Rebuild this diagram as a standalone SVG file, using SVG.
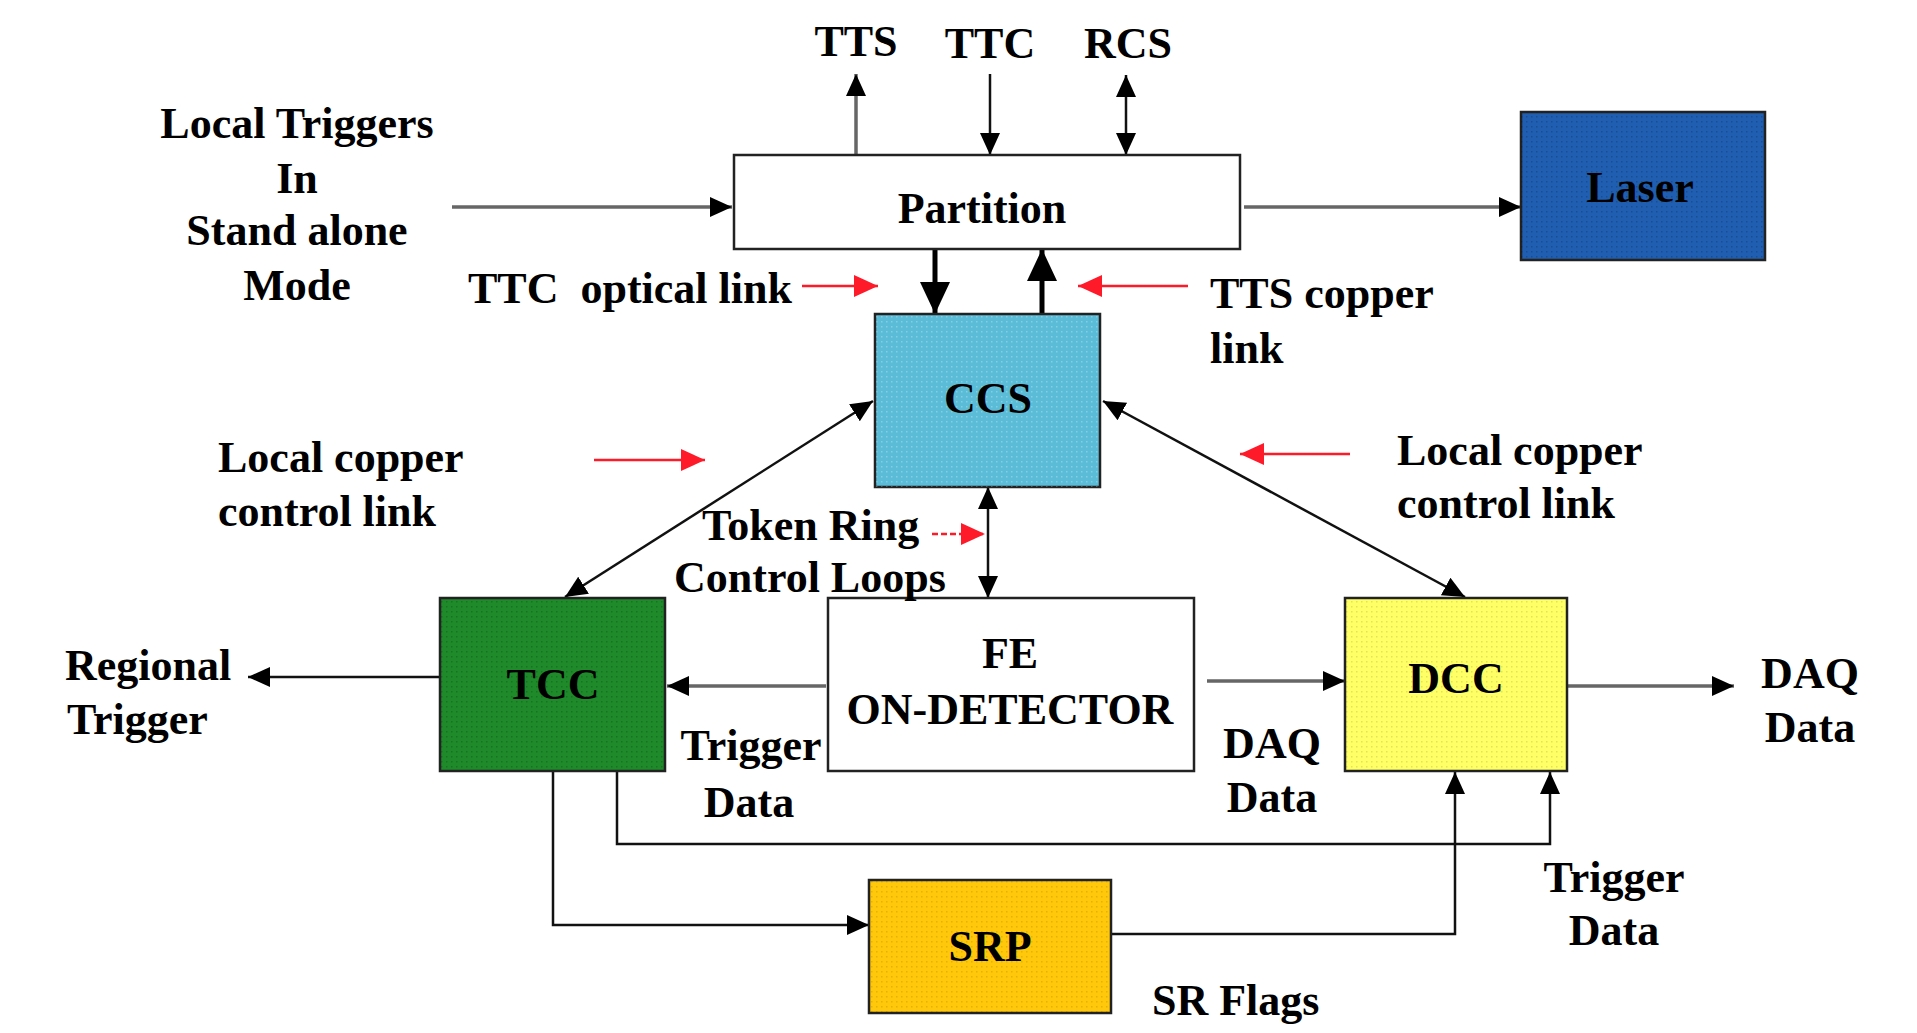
<svg xmlns="http://www.w3.org/2000/svg" width="1917" height="1033" viewBox="0 0 1917 1033">
<style>
text{font-family:"Liberation Serif","Times New Roman",serif;font-weight:bold;font-size:44px;fill:#000}
.c{text-anchor:middle}
.box{stroke:#222;stroke-width:2.5}
.ln{fill:none;stroke:#111;stroke-width:2.5}
.gl{fill:none;stroke:#666;stroke-width:3.5}
.th{fill:none;stroke:#000;stroke-width:5}
.red{fill:none;stroke:#ff1a2a;stroke-width:2.5}
</style>
<defs>
<marker id="a" markerUnits="userSpaceOnUse" markerWidth="24" markerHeight="22" refX="22" refY="10" orient="auto-start-reverse"><path d="M0,0 L22,10 L0,20 z" fill="#000"/></marker>
<marker id="ab" markerUnits="userSpaceOnUse" markerWidth="34" markerHeight="32" refX="32" refY="15" orient="auto-start-reverse"><path d="M0,0 L32,15 L0,30 z" fill="#000"/></marker>
<marker id="ar" markerUnits="userSpaceOnUse" markerWidth="26" markerHeight="24" refX="24" refY="11" orient="auto-start-reverse"><path d="M0,0 L24,11 L0,22 z" fill="#ff1a2a"/></marker>
<pattern id="dots" width="5" height="5" patternUnits="userSpaceOnUse"><rect x="1" y="1" width="1.5" height="1.5" fill="#000" fill-opacity="0.18"/></pattern>
<pattern id="dotsw" width="5" height="5" patternUnits="userSpaceOnUse"><rect x="1" y="1" width="1.5" height="1.5" fill="#fff" fill-opacity="0.25"/></pattern>
</defs>
<rect width="1917" height="1033" fill="#fff"/>

<g id="connectors">
<line class="gl" x1="856" y1="155" x2="856" y2="74" marker-end="url(#a)"/>
<line class="ln" x1="990" y1="74" x2="990" y2="155" marker-end="url(#a)"/>
<line class="ln" x1="1126" y1="75" x2="1126" y2="155" marker-start="url(#a)" marker-end="url(#a)"/>
<line class="gl" x1="452" y1="207" x2="732" y2="207" marker-end="url(#a)"/>
<line class="gl" x1="1244" y1="207" x2="1521" y2="207" marker-end="url(#a)"/>
<line class="th" x1="935" y1="249" x2="935" y2="314" marker-end="url(#ab)"/>
<line class="th" x1="1042" y1="314" x2="1042" y2="249" marker-end="url(#ab)"/>
<line class="ln" x1="873" y1="401" x2="565" y2="597" marker-start="url(#a)" marker-end="url(#a)"/>
<line class="ln" x1="1103" y1="401" x2="1465" y2="597" marker-start="url(#a)" marker-end="url(#a)"/>
<line class="ln" x1="988" y1="487" x2="988" y2="598" marker-start="url(#a)" marker-end="url(#a)"/>
<line class="gl" x1="826" y1="686" x2="667" y2="686" marker-end="url(#a)"/>
<line class="gl" x1="1207" y1="681" x2="1345" y2="681" marker-end="url(#a)"/>
<line class="gl" x1="1567" y1="686" x2="1734" y2="686" marker-end="url(#a)"/>
<line class="ln" x1="440" y1="677" x2="248" y2="677" marker-end="url(#a)"/>
<polyline class="ln" points="553,771 553,925 869,925" marker-end="url(#a)"/>
<polyline class="ln" points="617,771 617,844 1550,844 1550,772" marker-end="url(#a)"/>
<polyline class="ln" points="1111,934 1455,934 1455,772" marker-end="url(#a)"/>
<line class="red" x1="802" y1="286" x2="878" y2="286" marker-end="url(#ar)"/>
<line class="red" x1="1188" y1="286" x2="1078" y2="286" marker-end="url(#ar)"/>
<line class="red" x1="594" y1="460" x2="705" y2="460" marker-end="url(#ar)"/>
<line class="red" x1="1350" y1="454" x2="1240" y2="454" marker-end="url(#ar)"/>
<line class="red" x1="932" y1="534" x2="985" y2="534" stroke-dasharray="6 3" marker-end="url(#ar)"/>
</g>

<g id="partition"><rect class="box" x="734" y="155" width="506" height="94" fill="#fff"/><text class="c" x="982" y="223">Partition</text></g>
<g id="laser"><rect class="box" x="1521" y="112" width="244" height="148" fill="#1f5eb0"/><rect x="1521" y="112" width="244" height="148" fill="url(#dots)"/><text class="c" x="1640" y="202">Laser</text></g>
<g id="ccs"><rect class="box" x="875" y="314" width="225" height="173" fill="#5bbcd8"/><rect x="875" y="314" width="225" height="173" fill="url(#dotsw)"/><text class="c" x="988" y="413">CCS</text></g>
<g id="tcc"><rect class="box" x="440" y="598" width="225" height="173" fill="#1e8a2a"/><rect x="440" y="598" width="225" height="173" fill="url(#dots)"/><text class="c" x="553" y="699">TCC</text></g>
<g id="fe"><rect class="box" x="828" y="598" width="366" height="173" fill="#fff"/><text class="c" x="1010" y="668">FE</text><text class="c" x="1010" y="724">ON-DETECTOR</text></g>
<g id="dcc"><rect class="box" x="1345" y="598" width="222" height="173" fill="#ffff66"/><rect x="1345" y="598" width="222" height="173" fill="url(#dots)" opacity="0.6"/><text class="c" x="1456" y="693">DCC</text></g>
<g id="srp"><rect class="box" x="869" y="880" width="242" height="133" fill="#ffc80a"/><rect x="869" y="880" width="242" height="133" fill="url(#dots)" opacity="0.6"/><text class="c" x="990" y="961">SRP</text></g>

<g id="labels">
<text class="c" x="856" y="56">TTS</text>
<text class="c" x="990" y="58">TTC</text>
<text class="c" x="1128" y="58">RCS</text>
<text class="c" x="297" y="138">Local Triggers</text>
<text class="c" x="297" y="193">In</text>
<text class="c" x="297" y="245">Stand alone</text>
<text class="c" x="297" y="300">Mode</text>
<text x="468" y="303" xml:space="preserve">TTC  optical link</text>
<text x="1210" y="308">TTS copper</text>
<text x="1210" y="363">link</text>
<text x="218" y="472">Local copper</text>
<text x="218" y="526">control link</text>
<text x="1397" y="465">Local copper</text>
<text x="1397" y="518">control link</text>
<text x="702" y="540">Token Ring</text>
<text x="674" y="592">Control Loops</text>
<text x="65" y="680">Regional</text>
<text x="67" y="734">Trigger</text>
<text class="c" x="751" y="760">Trigger</text>
<text class="c" x="749" y="817">Data</text>
<text class="c" x="1272" y="758">DAQ</text>
<text class="c" x="1272" y="812">Data</text>
<text class="c" x="1810" y="688">DAQ</text>
<text class="c" x="1810" y="742">Data</text>
<text class="c" x="1614" y="892">Trigger</text>
<text class="c" x="1614" y="945">Data</text>
<text x="1152" y="1015">SR Flags</text>
</g>
</svg>
